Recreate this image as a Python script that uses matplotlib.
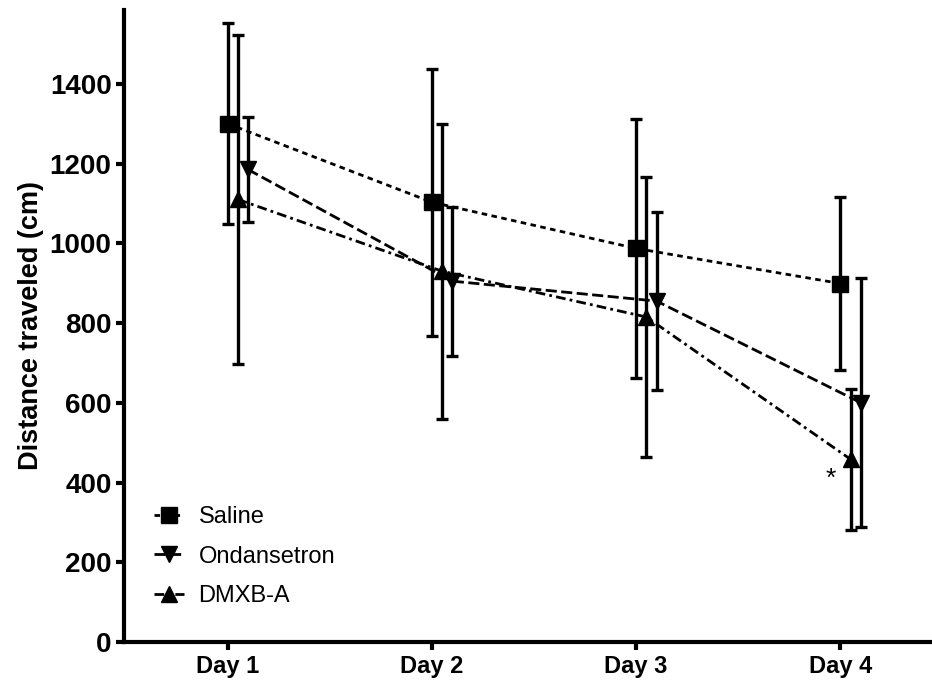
import matplotlib
matplotlib.use("Agg")
import matplotlib.pyplot as plt
import numpy as np

days = ["Day 1", "Day 2", "Day 3", "Day 4"]
y_ticks = [0, 200, 400, 600, 800, 1000, 1200, 1400]

saline_mean = [1300, 1103, 987, 899]
saline_err = [252, 335, 325, 216]

ondansetron_mean = [1185, 905, 855, 600]
ondansetron_err = [131, 187, 224, 312]

dmxba_mean = [1110, 930, 815, 458]
dmxba_err = [413, 370, 352, 176]

series = [
    ("Saline", saline_mean, saline_err, "s", (0, (2.0, 1.6)), 0.0, 12),
    ("Ondansetron", ondansetron_mean, ondansetron_err, "v", (0, (4.0, 1.6)), 0.10, 12),
    ("DMXB-A", dmxba_mean, dmxba_err, "^", (0, (3.5, 1.5, 1.0, 1.5)), 0.05, 12),
]

plt.rcParams['font.family'] = ['Liberation Sans', 'DejaVu Sans']

fig = plt.figure(figsize=(9.32, 6.88), dpi=100)
ax = fig.add_axes([124 / 932, 46 / 688, (932 - 124) / 932, 632 / 688])

x = np.arange(1, len(days) + 1)
handles = []
for name, mean, err, mk, ls, off, ms in series:
    xs = x + off
    ax.errorbar(xs, mean, yerr=err, fmt="none", ecolor="black",
                elinewidth=2.4, capsize=4, capthick=2.4, zorder=2)
    h, = ax.plot(xs, mean, color="black", linestyle=ls, linewidth=2.0,
                 marker=mk, markersize=ms, markerfacecolor="black",
                 markeredgecolor="black", label=name, zorder=3)
    handles.append(h)

ax.text(3.95, 410, "*", fontsize=19, ha="center", va="center", color="black")

ax.set_xlim(0.493, 4.448)
ax.set_ylim(0, 1585)
ax.set_xticks(x)
ax.set_xticklabels(days, fontsize=17, fontweight="bold")
ax.set_yticks(y_ticks)
ax.set_yticklabels([str(v) for v in y_ticks], fontsize=20, fontweight="bold")
ax.set_ylabel("Distance traveled (cm)", fontsize=19.5, fontweight="bold", labelpad=4)

for side in ["top", "right"]:
    ax.spines[side].set_visible(False)
for side in ["left", "bottom"]:
    ax.spines[side].set_linewidth(3)
ax.tick_params(axis="both", width=3, length=6, direction="out", pad=3)

leg = ax.legend(handles=handles, loc="lower left", bbox_to_anchor=(0.025, 0.04),
                frameon=False, fontsize=17, handlelength=1.3, handletextpad=0.6,
                labelspacing=0.75, borderaxespad=0)

fig.savefig("out.png", dpi=100)
